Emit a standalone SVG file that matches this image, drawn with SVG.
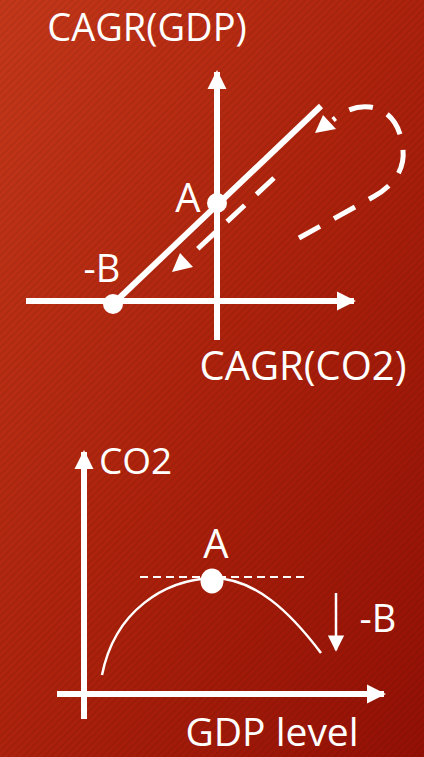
<svg xmlns="http://www.w3.org/2000/svg" width="424" height="757" viewBox="0 0 424 757">
<defs>
<linearGradient id="bg" x1="0" y1="0" x2="1" y2="1">
<stop offset="0" stop-color="#c4381a"/>
<stop offset="0.5" stop-color="#ac220c"/>
<stop offset="1" stop-color="#931005"/>
</linearGradient>
<pattern id="stripes" width="5" height="5" patternUnits="userSpaceOnUse" patternTransform="rotate(-45)">
<rect x="0" y="0" width="5" height="2" fill="#000" fill-opacity="0.06"/>
</pattern>
<marker id="ah" viewBox="0 0 10 10" refX="9" refY="5" markerWidth="3.2" markerHeight="3.2" orient="auto" markerUnits="strokeWidth">
<path d="M0,0 L10,5 L0,10 z" fill="#fff"/>
</marker>
<marker id="ahs" viewBox="0 0 10 10" refX="9" refY="5" markerWidth="6.5" markerHeight="6.5" orient="auto" markerUnits="strokeWidth">
<path d="M0,0 L10,5 L0,10 z" fill="#fff"/>
</marker>
</defs>
<style>
text{font-family:"Open Sans","DejaVu Sans",sans-serif;fill:#fff}
.ax{stroke:#fff;stroke-width:6;fill:none}
.dash{stroke:#fff;stroke-width:5;fill:none;stroke-dasharray:24 16}
.thin{stroke:#fff;stroke-width:2.5;fill:none}
</style>
<rect width="424" height="757" fill="url(#bg)"/>
<rect width="424" height="757" fill="url(#stripes)"/>

<g id="top-chart">
<g id="connectors-top">
<line class="ax" x1="217" y1="340" x2="217" y2="72" marker-end="url(#ah)"/>
<line class="ax" x1="26" y1="301" x2="354" y2="301" marker-end="url(#ah)"/>
<line class="ax" x1="113" y1="304" x2="321" y2="106"/>
<path class="dash" d="M274,178 L190,256"/>
<path d="M180,253 L193,267 L172,272 z" fill="#fff"/>
<path class="dash" d="M299,238 L373,197 C393,186 405,170 403,150 C401,126 390,110 370,107 C355,105 343,112 333,120"/>
<path d="M323,115 L336,129 L315,133 z" fill="#fff"/>
</g>
<g id="node-A-top"><circle cx="217" cy="203" r="10" fill="#fff"/><text x="188" y="212" font-size="40" text-anchor="middle">A</text></g>
<g id="node-B-top"><circle cx="113" cy="304" r="10" fill="#fff"/><text x="102" y="282" font-size="38" text-anchor="middle">-B</text></g>
<text id="label-gdp" x="147" y="41" font-size="38" text-anchor="middle">CAGR(GDP)</text>
<text id="label-co2" x="303" y="380" font-size="40" text-anchor="middle">CAGR(CO2)</text>
</g>

<g id="bottom-chart">
<g id="connectors-bottom">
<line class="ax" x1="84" y1="719" x2="84" y2="452" marker-end="url(#ah)"/>
<line class="ax" x1="57" y1="694" x2="384" y2="694" marker-end="url(#ah)"/>
<line x1="140" y1="577" x2="306" y2="577" stroke="#fff" stroke-width="2" stroke-dasharray="8 5"/>
<path class="thin" d="M102,675 C115,610 165,580 212,578 C255,578 290,612 321,653"/>
<line x1="336" y1="593" x2="336" y2="650" stroke="#fff" stroke-width="2.5" marker-end="url(#ahs)"/>
</g>
<g id="node-A-bottom"><ellipse cx="212" cy="581" rx="11.5" ry="12.5" fill="#fff"/><text x="216" y="558" font-size="40" text-anchor="middle">A</text></g>
<text id="label-B-bottom" x="378" y="632" font-size="38" text-anchor="middle">-B</text>
<text id="label-co2-b" x="99" y="474" font-size="37">CO2</text>
<text id="label-gdplevel" x="272" y="746" font-size="39" text-anchor="middle">GDP level</text>
</g>
</svg>
